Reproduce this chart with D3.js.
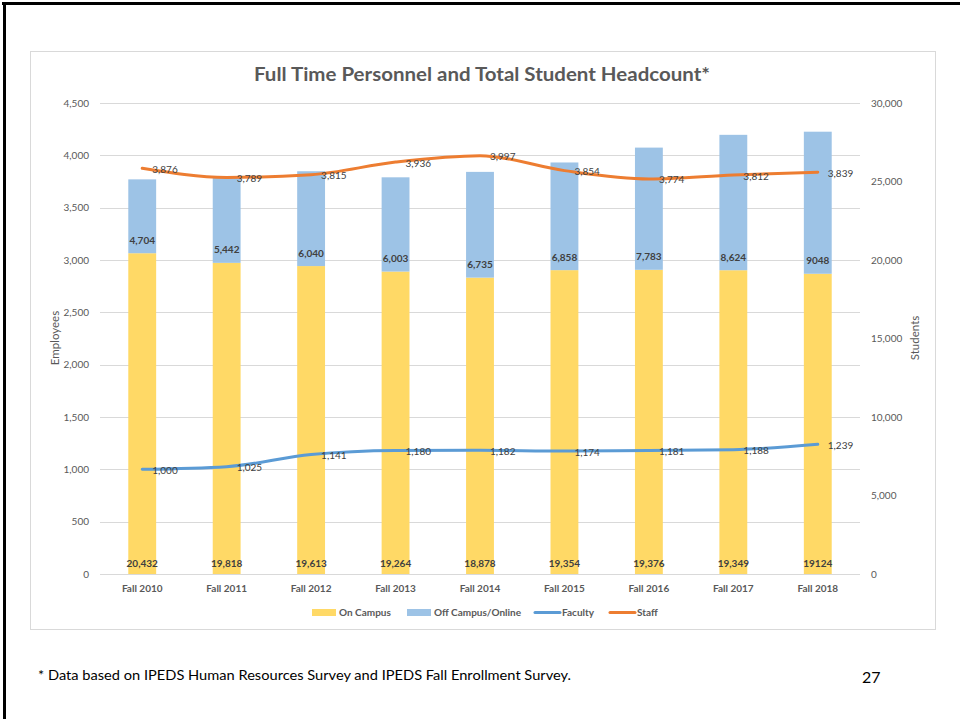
<!DOCTYPE html>
<html lang="en">
<head>
    <meta charset="UTF-8">
    <title>Full Time Personnel and Total Student Headcount</title>
    <script src="https://cdn.jsdelivr.net/npm/d3@7"></script>
    <style>
        body { margin: 0; background: #FFFFFF; }
        svg { display: block; font-family: Lato, "Liberation Sans", sans-serif; }
        .tick-label { font-size: 10px; fill: #595959; }
        .axis-title { font-size: 11.5px; fill: #595959; }
        .cat-label { font-size: 10px; font-weight: bold; fill: #595959; }
        .bar-label { font-size: 10px; font-weight: bold; fill: #404040; }
        .line-label { font-size: 10px; fill: #404040; }
        .legend-label { font-size: 10px; font-weight: bold; fill: #595959; }
    </style>
</head>
<body>
<div id="canvas"></div>
<script>
    // data
    const years = ['Fall 2010', 'Fall 2011', 'Fall 2012', 'Fall 2013', 'Fall 2014',
        'Fall 2015', 'Fall 2016', 'Fall 2017', 'Fall 2018'];
    const onCampus = [20432, 19818, 19613, 19264, 18878, 19354, 19376, 19349, 19124];
    const offCampus = [4704, 5442, 6040, 6003, 6735, 6858, 7783, 8624, 9048];
    const faculty = [1000, 1025, 1141, 1180, 1182, 1174, 1181, 1188, 1239];
    const staff = [3876, 3789, 3815, 3936, 3997, 3854, 3774, 3812, 3839];
    // the last two labels were typed without a thousands separator on the slide
    const onCampusText = ['20,432', '19,818', '19,613', '19,264', '18,878', '19,354', '19,376', '19,349', '19124'];
    const offCampusText = ['4,704', '5,442', '6,040', '6,003', '6,735', '6,858', '7,783', '8,624', '9048'];
    const leftTicks = [0, 500, 1000, 1500, 2000, 2500, 3000, 3500, 4000, 4500];
    const rightTicks = [0, 5000, 10000, 15000, 20000, 25000, 30000];

    const colors = {
        onCampus: '#FFD966',
        offCampus: '#9DC3E6',
        faculty: '#5B9BD5',
        staff: '#ED7D31'
    };

    const width = 960;
    const height = 719;
    const plot = { left: 100, right: 860, top: 103, bottom: 574 };

    const svg = d3.select('#canvas')
        .append('svg')
        .attr('width', width)
        .attr('height', height);

    // slide frame
    svg.append('line')
        .attr('x1', 2).attr('x2', width).attr('y1', 3.5).attr('y2', 3.5)
        .attr('stroke', '#000000').attr('stroke-width', 3);
    svg.append('line')
        .attr('x1', 4.5).attr('x2', 4.5).attr('y1', 2).attr('y2', height)
        .attr('stroke', '#000000').attr('stroke-width', 3);

    // chart area
    svg.append('rect')
        .attr('x', 30.5).attr('y', 51.5)
        .attr('width', 905).attr('height', 578)
        .attr('fill', '#FFFFFF')
        .attr('stroke', '#D9D9D9');

    const x = d3.scaleBand()
        .domain(years)
        .range([plot.left, plot.right])
        .paddingInner(0.67)
        .paddingOuter(0.335);

    const yLeft = d3.scaleLinear().domain([0, 4500]).range([plot.bottom, plot.top]);
    const yRight = d3.scaleLinear().domain([0, 30000]).range([plot.bottom, plot.top]);
    const fmt = d3.format(',');
    const cx = (d) => x(d) + x.bandwidth() / 2;

    // gridlines
    svg.append('g')
        .selectAll('line')
        .data(leftTicks)
        .enter()
        .append('line')
        .attr('x1', plot.left).attr('x2', plot.right)
        .attr('y1', (d) => Math.round(yLeft(d)) + 0.5)
        .attr('y2', (d) => Math.round(yLeft(d)) + 0.5)
        .attr('stroke', '#D9D9D9')
        .attr('stroke-width', 1);

    // axis tick labels
    svg.append('g')
        .selectAll('text')
        .data(leftTicks)
        .enter()
        .append('text')
        .attr('class', 'tick-label')
        .attr('x', 89)
        .attr('y', (d) => yLeft(d))
        .attr('dy', '0.35em')
        .attr('text-anchor', 'end')
        .text((d) => fmt(d));

    svg.append('g')
        .selectAll('text')
        .data(rightTicks)
        .enter()
        .append('text')
        .attr('class', 'tick-label')
        .attr('x', 871)
        .attr('y', (d) => yRight(d))
        .attr('dy', '0.35em')
        .text((d) => fmt(d));

    // category labels
    svg.append('g')
        .selectAll('text')
        .data(years)
        .enter()
        .append('text')
        .attr('class', 'cat-label')
        .attr('x', cx)
        .attr('y', 588)
        .attr('dy', '0.35em')
        .attr('text-anchor', 'middle')
        .text((d) => d);

    // axis titles
    svg.append('text')
        .attr('class', 'axis-title')
        .attr('transform', 'translate(55,338) rotate(-90)')
        .attr('dy', '0.35em')
        .attr('text-anchor', 'middle')
        .text('Employees');

    svg.append('text')
        .attr('class', 'axis-title')
        .attr('transform', 'translate(915,338) rotate(-90)')
        .attr('dy', '0.35em')
        .attr('text-anchor', 'middle')
        .text('Students');

    // stacked bars
    const bars = svg.append('g');
    bars.selectAll('rect.on')
        .data(years)
        .enter()
        .append('rect')
        .attr('class', 'on')
        .attr('x', (d) => x(d))
        .attr('width', x.bandwidth())
        .attr('y', (d, i) => yRight(onCampus[i]))
        .attr('height', (d, i) => yRight(0) - yRight(onCampus[i]))
        .attr('fill', colors.onCampus);

    bars.selectAll('rect.off')
        .data(years)
        .enter()
        .append('rect')
        .attr('class', 'off')
        .attr('x', (d) => x(d))
        .attr('width', x.bandwidth())
        .attr('y', (d, i) => yRight(onCampus[i] + offCampus[i]))
        .attr('height', (d, i) => yRight(onCampus[i]) - yRight(onCampus[i] + offCampus[i]))
        .attr('fill', colors.offCampus);

    // bar labels
    svg.append('g')
        .selectAll('text')
        .data(years)
        .enter()
        .append('text')
        .attr('class', 'bar-label')
        .attr('x', cx)
        .attr('y', 563)
        .attr('dy', '0.35em')
        .attr('text-anchor', 'middle')
        .text((d, i) => onCampusText[i]);

    svg.append('g')
        .selectAll('text')
        .data(years)
        .enter()
        .append('text')
        .attr('class', 'bar-label')
        .attr('x', cx)
        .attr('y', (d, i) => yRight(onCampus[i]) - 13)
        .attr('dy', '0.35em')
        .attr('text-anchor', 'middle')
        .text((d, i) => offCampusText[i]);

    // lines
    const drawLine = (values, color) => {
        const line = d3.line()
            .x((d, i) => cx(years[i]))
            .y((d) => yLeft(d))
            .curve(d3.curveMonotoneX);

        svg.append('path')
            .datum(values)
            .attr('d', line)
            .attr('fill', 'none')
            .attr('stroke', color)
            .attr('stroke-width', 3)
            .attr('stroke-linecap', 'round');

        svg.append('g')
            .selectAll('text')
            .data(values)
            .enter()
            .append('text')
            .attr('class', 'line-label')
            .attr('x', (d, i) => cx(years[i]) + 10)
            .attr('y', (d) => yLeft(d) + 1)
            .attr('dy', '0.35em')
            .text((d) => fmt(d));
    };

    drawLine(faculty, colors.faculty);
    drawLine(staff, colors.staff);

    // title
    svg.append('text')
        .attr('x', 482)
        .attr('y', 75)
        .attr('dy', '0.35em')
        .attr('text-anchor', 'middle')
        .attr('font-size', 18)
        .attr('font-weight', 'bold')
        .attr('fill', '#595959')
        .attr('textLength', 456)
        .attr('lengthAdjust', 'spacingAndGlyphs')
        .text('Full Time Personnel and Total Student Headcount*');

    // legend
    const legendItems = [
        { name: 'On Campus', color: colors.onCampus, type: 'rect', x: 312 },
        { name: 'Off Campus/Online', color: colors.offCampus, type: 'rect', x: 407 },
        { name: 'Faculty', color: colors.faculty, type: 'line', x: 535 },
        { name: 'Staff', color: colors.staff, type: 'line', x: 610 }
    ];
    const legendY = 612.5;
    const legend = svg.append('g')
        .selectAll('g')
        .data(legendItems)
        .enter()
        .append('g')
        .attr('transform', (d) => `translate(${d.x},${legendY})`);

    legend.filter((d) => d.type === 'rect')
        .append('rect')
        .attr('x', 0).attr('y', -3.5)
        .attr('width', 24).attr('height', 7)
        .attr('fill', (d) => d.color);

    legend.filter((d) => d.type === 'line')
        .append('line')
        .attr('x1', 0).attr('x2', 25)
        .attr('y1', 0).attr('y2', 0)
        .attr('stroke', (d) => d.color)
        .attr('stroke-width', 3)
        .attr('stroke-linecap', 'round');

    legend.append('text')
        .attr('class', 'legend-label')
        .attr('x', 27)
        .attr('dy', '0.35em')
        .text((d) => d.name);

    // footnote and page number
    svg.append('text')
        .attr('x', 38)
        .attr('y', 675)
        .attr('dy', '0.35em')
        .attr('font-size', 13)
        .attr('fill', '#000000')
        .attr('textLength', 533)
        .attr('lengthAdjust', 'spacingAndGlyphs')
        .text('* Data based on IPEDS Human Resources Survey and IPEDS Fall Enrollment Survey.');

    svg.append('text')
        .attr('x', 862)
        .attr('y', 677)
        .attr('dy', '0.35em')
        .attr('font-size', 16)
        .attr('fill', '#000000')
        .text('27');
</script>
</body>
</html>
